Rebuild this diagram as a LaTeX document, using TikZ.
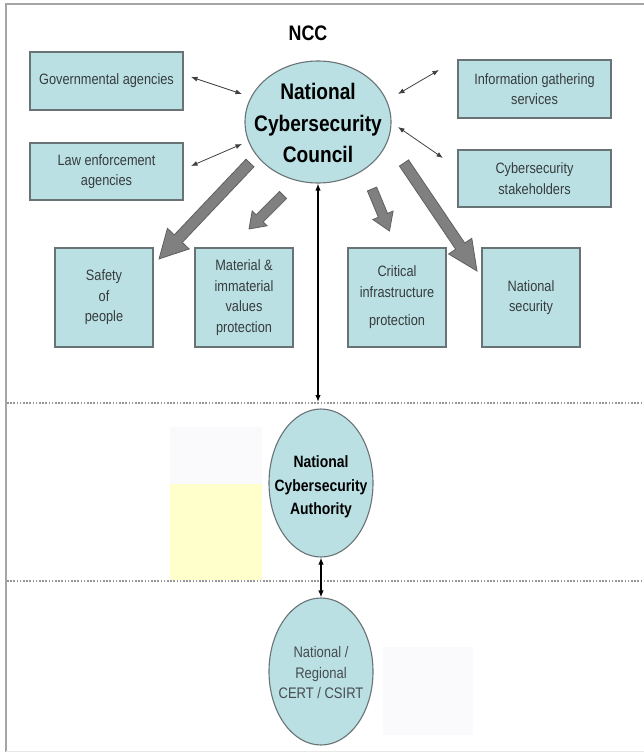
\documentclass[tikz,border=0pt]{standalone}
\usepackage{fontspec}
\setmainfont{Liberation Sans}[FakeStretch=0.85]
\usetikzlibrary{shapes.geometric,arrows.meta,calc}
\definecolor{boxfill}{RGB}{186,224,227}
\definecolor{boxline}{RGB}{105,115,118}
\definecolor{arrfill}{RGB}{128,128,128}
\definecolor{arrline}{RGB}{95,95,95}
\definecolor{txtgray}{RGB}{55,60,62}
\definecolor{txtgraylight}{RGB}{70,76,80}
\definecolor{framec}{RGB}{165,165,165}
\definecolor{framefaint}{RGB}{232,232,232}
\definecolor{dotc}{RGB}{150,150,150}
\definecolor{paleyellow}{RGB}{255,255,204}
\definecolor{palelav}{RGB}{250,250,253}
\tikzset{
  box/.style={draw=boxline, line width=1.1pt, fill=boxfill, inner sep=0pt,
    align=center, text=txtgray, font=\fontsize{15}{20.5}\selectfont},
  oval/.style={ellipse, draw=boxline, line width=1.1pt, fill=boxfill,
    inner sep=0pt},
  ovaltext/.style={inner sep=0pt, align=center},
  thinarrow/.style={draw=black!75, line width=0.8pt,
    {Latex[length=6.5pt,width=5pt]}-{Latex[length=6.5pt,width=5pt]}},
  vertarrow/.style={draw=black, line width=1.6pt,
    {Latex[length=7pt,width=5.5pt]}-{Latex[length=7pt,width=5.5pt]}},
  blockarrowstyle/.style={fill=arrfill, draw=arrline, line width=0.8pt, line join=miter},
  sepline/.style={draw=dotc, line width=1.6pt, dash pattern=on 1.6pt off 1.6pt},
}
\newcommand\blockarrow[5]{%
  \draw[blockarrowstyle] let \p1=(#1), \p2=(#2),
    \n1={atan2(\y2-\y1,\x2-\x1)}, \n2={veclen(\x2-\x1,\y2-\y1)} in
    [shift={(\p1)}, rotate=\n1]
    (0,{-#3/2}) -- ({\n2-#5},{-#3/2}) -- ({\n2-#5},{-#4/2}) -- ({\n2},0)
    -- ({\n2-#5},{#4/2}) -- ({\n2-#5},{#3/2}) -- (0,{#3/2}) -- cycle;}
\begin{document}
\begin{tikzpicture}[x=1pt,y=1pt]
\useasboundingbox (0,0) rectangle (644,-752);
% faint background rectangles
\fill[palelav] (170,-427) rectangle (262,-484);
\fill[paleyellow] (170,-484) rectangle (262,-580);
\fill[palelav] (383,-647) rectangle (473,-735);
% frame
\draw[framec, line width=2pt] (6,-752) -- (6,-4) -- (644,-4);
\draw[framefaint, line width=1pt] (6,-751) -- (644,-751);
% separators
\draw[sepline] (7,-403) -- (644,-403);
\draw[sepline] (7,-581) -- (644,-581);
% title
\node[font=\bfseries\fontsize{21}{25}\selectfont] (title) at (308,-33) {NCC};
% council
\node[oval, minimum width=146pt, minimum height=122pt] (ncc) at (318,-122) {};
\node[ovaltext, font=\bfseries\fontsize{22.5}{31.5}\selectfont] (ncctext) at (318,-123)
  {National\\Cybersecurity\\Council};
% side boxes
\node[box, minimum width=153pt, minimum height=58pt] (gov) at (106.5,-81) {Governmental agencies};
\node[box, minimum width=153pt, minimum height=57pt] (law) at (106.5,-171.5) {Law enforcement\\agencies};
\node[box, minimum width=153pt, minimum height=58pt] (info) at (534.5,-89) {Information gathering\\services};
\node[box, minimum width=153pt, minimum height=57pt] (stake) at (534.5,-178.5) {Cybersecurity\\stakeholders};
% bottom boxes
\node[box, minimum width=98pt, minimum height=99pt] (safety) at (104,-297.5) {Safety\\of\\people};
\node[box, minimum width=98pt, minimum height=99pt] (material) at (244,-297.5) {Material \&\\immaterial\\values\\protection};
\node[box, minimum width=98pt, minimum height=99pt] (critical) at (397,-297.5) {Critical\\infrastructure\\[8pt]protection};
\node[box, minimum width=98pt, minimum height=99pt] (natsec) at (531,-297.5) {National\\security};
% authority and CERT
\node[oval, minimum width=104pt, minimum height=148pt] (auth) at (321,-483) {};
\node[ovaltext, font=\bfseries\fontsize{16.4}{23.5}\selectfont] (authtext) at (321,-487)
  {National\\Cybersecurity\\Authority};
\node[oval, minimum width=104pt, minimum height=147pt] (cert) at (321,-671.5) {};
\node[ovaltext, text=txtgraylight, font=\fontsize{15.3}{20.5}\selectfont] (certtext) at (321,-673)
  {National /\\Regional\\CERT / CSIRT};
% thin double arrows
\coordinate (g1) at (191,-77);  \coordinate (g2) at (242,-94);
\coordinate (l1) at (191,-166); \coordinate (l2) at (242,-144);
\coordinate (i1) at (398,-94);  \coordinate (i2) at (439,-70);
\coordinate (s1) at (398,-127); \coordinate (s2) at (443,-158);
\draw[thinarrow] (g1) -- (g2);
\draw[thinarrow] (l1) -- (l2);
\draw[thinarrow] (i1) -- (i2);
\draw[thinarrow] (s1) -- (s2);
% vertical arrows
\coordinate (dl1) at (318,-402);
\draw[vertarrow] (ncc.south) -- (dl1);
\draw[vertarrow] (auth.south) -- (cert.north);
% block arrows
\coordinate (bs1) at (250,-163); \coordinate (bs2) at (159,-259);
\coordinate (bm1) at (283,-195); \coordinate (bm2) at (249,-229);
\coordinate (bc1) at (372,-189); \coordinate (bc2) at (389.5,-231);
\coordinate (bn1) at (404,-163); \coordinate (bn2) at (477,-271);
\blockarrow{bs1}{bs2}{11}{30}{28}
\blockarrow{bm1}{bm2}{10}{21}{15}
\blockarrow{bc1}{bc2}{10}{22}{17}
\blockarrow{bn1}{bn2}{11}{28}{30}
\end{tikzpicture}
\end{document}
